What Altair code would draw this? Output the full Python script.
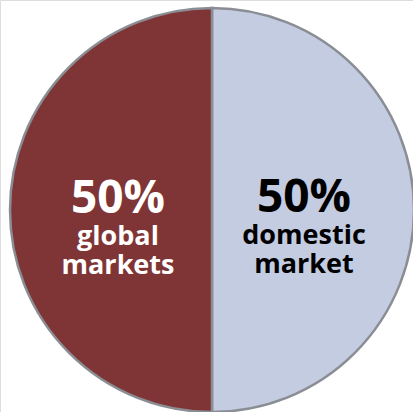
import altair as alt
import pandas as pd

segments = ["domestic market", "global markets"]
shares = [50, 50]
colors = ["#c3cce0", "#7f3535"]
order = [1, 2]

pct_labels = ["50%", "50%"]
line1 = ["domestic", "global"]
line2 = ["market", "markets"]

df = pd.DataFrame({"segment": segments, "share": shares, "order": order})

pie = alt.Chart(df).mark_arc(stroke="#8a8d94", strokeWidth=2.5, radius=202).encode(
    theta=alt.Theta("share:Q", stack=True),
    order=alt.Order("order:Q"),
    color=alt.Color("segment:N", scale=alt.Scale(domain=segments, range=colors), legend=None),
    x=alt.value(212),
    y=alt.value(210),
)

font = "Open Sans"
layers = [pie]
# right (domestic) labels
cx = {0: 304, 1: 118}
tcol = {0: "#000000", 1: "#ffffff"}
for i in range(2):
    d = pd.DataFrame({"a": [pct_labels[i]], "b": [line1[i]], "c": [line2[i]]})
    base = alt.Chart(d)
    layers.append(base.mark_text(font=font, fontWeight="bold", fontSize=46, color=tcol[i],
                                 align="center", baseline="alphabetic").encode(
        text="a:N", x=alt.value(cx[i]), y=alt.value(212 if i == 0 else 213)))
    layers.append(base.mark_text(font=font, fontWeight="bold", fontSize=27, color=tcol[i],
                                 align="center", baseline="alphabetic").encode(
        text="b:N", x=alt.value(cx[i]), y=alt.value(244 if i == 0 else 245)))
    layers.append(base.mark_text(font=font, fontWeight="bold", fontSize=27, color=tcol[i],
                                 align="center", baseline="alphabetic").encode(
        text="c:N", x=alt.value(cx[i]), y=alt.value(273 if i == 0 else 274)))

chart = alt.layer(*layers).properties(
    width=413, height=412, padding=0,
    autosize=alt.AutoSizeParams(type="none"),
).configure_view(stroke=None).configure(background="white")

chart.save("out.html", embed_options={"renderer": "svg", "actions": False})
